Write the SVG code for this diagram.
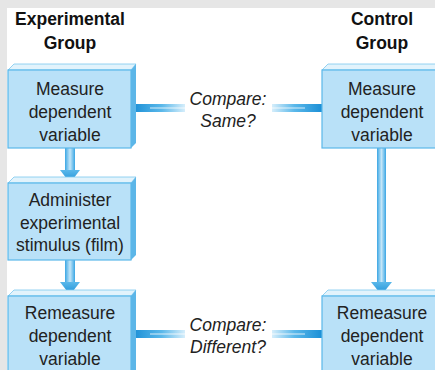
<svg xmlns="http://www.w3.org/2000/svg" width="435" height="370" viewBox="0 0 435 370">
<defs>
<linearGradient id="barL" x1="0" y1="0" x2="1" y2="0">
<stop offset="0" stop-color="#1b8fd6"/><stop offset="0.55" stop-color="#5ab8ea"/><stop offset="1" stop-color="#d6eefb"/>
</linearGradient>
<linearGradient id="barR" x1="1" y1="0" x2="0" y2="0">
<stop offset="0" stop-color="#1b8fd6"/><stop offset="0.55" stop-color="#5ab8ea"/><stop offset="1" stop-color="#d6eefb"/>
</linearGradient>
<linearGradient id="shaft" x1="0" y1="0" x2="1" y2="0">
<stop offset="0" stop-color="#3aa6e4"/><stop offset="0.5" stop-color="#c4e6f8"/><stop offset="1" stop-color="#3aa6e4"/>
</linearGradient>
<linearGradient id="head" x1="0" y1="0" x2="0" y2="1">
<stop offset="0" stop-color="#5ab8ea"/><stop offset="1" stop-color="#1b8fd6"/>
</linearGradient>
<style>
.face{fill:#b9e1f8;stroke:#5ab8ea;stroke-width:1.2}
.top{fill:#e2f3fc;stroke:#7cc8ef;stroke-width:0.8}
.side{fill:#5cb6e8}
.t{font-family:"Liberation Sans",Arial,sans-serif;font-size:17.5px;fill:#222;text-anchor:middle}
.h{font-weight:bold;fill:#111}
.i{font-style:italic}
</style>
</defs>
<rect width="435" height="370" fill="#ffffff"/>
<rect x="0" y="0" width="435" height="8" fill="#e6e6e6"/>
<rect x="0" y="0" width="7" height="370" fill="#e6e6e6"/>

<g id="headers">
<text class="t h" x="70" y="25">Experimental</text>
<text class="t h" x="70" y="49">Group</text>
<text class="t h" x="382" y="25">Control</text>
<text class="t h" x="382" y="49">Group</text>
</g>

<g id="connectors">
<rect x="65" y="148" width="10" height="23" fill="url(#shaft)"/>
<polygon points="60,170 80,170 70,183" fill="url(#head)"/>
<rect x="65" y="260" width="10" height="23" fill="url(#shaft)"/>
<polygon points="60,282 80,282 70,295" fill="url(#head)"/>
<rect x="377" y="148" width="9" height="135" fill="url(#shaft)"/>
<polygon points="371,282 392,282 381.5,295" fill="url(#head)"/>
<rect x="133" y="104" width="52" height="8" fill="url(#barL)"/>
<line x1="150" y1="108" x2="185" y2="108" stroke="#ffffff" stroke-width="1" opacity="0.8"/>
<rect x="272" y="104" width="50" height="8" fill="url(#barR)"/>
<line x1="272" y1="108" x2="305" y2="108" stroke="#ffffff" stroke-width="1" opacity="0.8"/>
<rect x="133" y="330" width="52" height="8" fill="url(#barL)"/>
<line x1="150" y1="334" x2="185" y2="334" stroke="#ffffff" stroke-width="1" opacity="0.8"/>
<rect x="272" y="330" width="50" height="8" fill="url(#barR)"/>
<line x1="272" y1="334" x2="305" y2="334" stroke="#ffffff" stroke-width="1" opacity="0.8"/>
</g>

<g id="compare-same">
<text class="t i" x="228" y="105">Compare:</text>
<text class="t i" x="228" y="127">Same?</text>
</g>
<g id="compare-different">
<text class="t i" x="228" y="331">Compare:</text>
<text class="t i" x="228" y="353">Different?</text>
</g>

<g id="exp-measure">
<polygon class="top" points="8,70 14,64 136,64 131,70"/>
<polygon class="side" points="131,70 136,64 136,143 131,148"/>
<rect class="face" x="8" y="70" width="123" height="78"/>
<text class="t" x="70" y="95">Measure</text>
<text class="t" x="70" y="118">dependent</text>
<text class="t" x="70" y="141">variable</text>
</g>

<g id="exp-administer">
<polygon class="top" points="8,183 14,177 136,177 131,183"/>
<polygon class="side" points="131,183 136,177 136,255 131,260"/>
<rect class="face" x="8" y="183" width="123" height="77"/>
<text class="t" x="70" y="206">Administer</text>
<text class="t" x="70" y="229">experimental</text>
<text class="t" x="70" y="251">stimulus (film)</text>
</g>

<g id="exp-remeasure">
<polygon class="top" points="8,296 14,290 136,290 131,296"/>
<polygon class="side" points="131,296 136,290 136,370 131,370"/>
<rect class="face" x="8" y="296" width="123" height="80"/>
<text class="t" x="70" y="319">Remeasure</text>
<text class="t" x="70" y="342">dependent</text>
<text class="t" x="70" y="365">variable</text>
</g>

<g id="ctl-measure">
<polygon class="top" points="322,70 328,64 440,64 440,70"/>
<rect class="face" x="322" y="70" width="120" height="78"/>
<text class="t" x="382" y="95">Measure</text>
<text class="t" x="382" y="118">dependent</text>
<text class="t" x="382" y="141">variable</text>
</g>

<g id="ctl-remeasure">
<polygon class="top" points="322,296 328,290 440,290 440,296"/>
<rect class="face" x="322" y="296" width="120" height="80"/>
<text class="t" x="382" y="319">Remeasure</text>
<text class="t" x="382" y="342">dependent</text>
<text class="t" x="382" y="365">variable</text>
</g>
</svg>
